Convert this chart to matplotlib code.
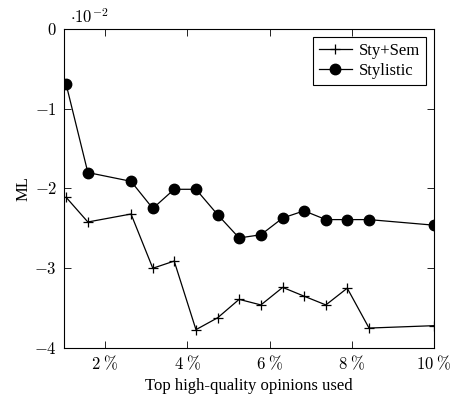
import matplotlib.pyplot as plt
from matplotlib.ticker import FuncFormatter

# percentage of top opinions used (x axis)
top_pct = [1.05, 1.58, 2.63, 3.16, 3.68, 4.21, 4.74, 5.26, 5.79, 6.32,
           6.84, 7.37, 7.89, 8.42, 10.0]

# ML values in units of 1e-2
sty_sem = [-2.11, -2.42, -2.32, -3.00, -2.91, -3.77, -3.62, -3.39, -3.46,
           -3.24, -3.35, -3.46, -3.25, -3.75, -3.72]
stylistic = [-0.69, -1.80, -1.91, -2.25, -2.01, -2.01, -2.33, -2.62, -2.58,
             -2.37, -2.28, -2.39, -2.39, -2.39, -2.46]

x_ticks = [2, 4, 6, 8, 10]
y_ticks = [0, -1, -2, -3, -4]

plt.rcParams['font.family'] = ['Liberation Serif', 'DejaVu Serif']
plt.rcParams['mathtext.fontset'] = 'cm'

fig = plt.figure(figsize=(4.53, 3.96), dpi=100)
ax = fig.add_axes([0.1413, 0.1212, 0.8167, 0.8056])

ax.plot(top_pct, sty_sem, color='black', lw=0.9, marker='+',
        markersize=7, markeredgewidth=0.9, label='Sty+Sem')
ax.plot(top_pct, stylistic, color='black', lw=0.9, marker='o',
        markersize=7.5, label='Stylistic')

ax.set_xlim(1, 10)
ax.set_ylim(-4, 0)
ax.set_xticks(x_ticks)
ax.set_yticks(y_ticks)
ax.xaxis.set_major_formatter(FuncFormatter(lambda v, p: r'$%d\;\%%$' % v))
ax.yaxis.set_major_formatter(FuncFormatter(lambda v, p: r'$%d$' % v))
ax.tick_params(direction='in', top=True, right=True, length=5, width=0.6,
               labelsize=12, pad=5)
for s in ax.spines.values():
    s.set_linewidth(0.8)

ax.text(0.015, 1.005, r'$\cdot 10^{-2}$', transform=ax.transAxes,
        fontsize=12, ha='left', va='bottom')

ax.set_xlabel('Top high-quality opinions used', fontsize=12, labelpad=3)
ax.set_ylabel('ML', fontsize=12, labelpad=2)

leg = ax.legend(loc='upper right', fontsize=12, fancybox=False,
                edgecolor='black', framealpha=1, handlelength=2.0,
                borderaxespad=0.5, labelspacing=0.25, handletextpad=0.4,
                borderpad=0.35)
leg.get_frame().set_linewidth(0.8)

fig.savefig('out.png', dpi=100)
